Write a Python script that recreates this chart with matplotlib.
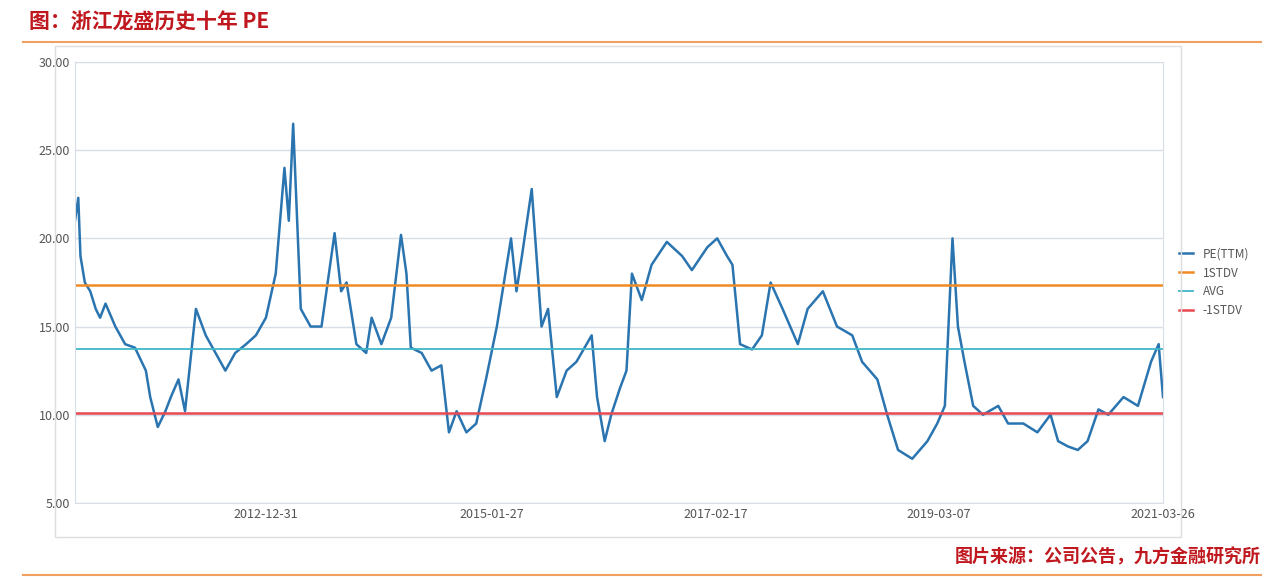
import matplotlib
matplotlib.use("Agg")
import matplotlib.pyplot as plt
import numpy as np
import pandas as pd

plt.rcParams['font.family'] = ['Noto Sans CJK SC', 'DejaVu Sans']

# decimal years
years = [2011.25,2011.28,2011.30,2011.34,2011.39,2011.44,2011.48,2011.53,2011.62,2011.71,
         2011.80,2011.90,2011.94,2012.01,2012.08,2012.13,2012.20,2012.26,2012.36,2012.45,
         2012.54,2012.63,2012.72,2012.82,2012.91,2013.00,2013.09,2013.17,2013.21,2013.25,
         2013.32,2013.41,2013.51,2013.63,2013.69,2013.74,2013.83,2013.92,2013.97,2014.06,
         2014.15,2014.24,2014.29,2014.33,2014.43,2014.52,2014.61,2014.68,2014.75,2014.84,
         2014.93,2015.02,2015.12,2015.25,2015.30,2015.35,2015.44,2015.53,2015.59,2015.67,
         2015.76,2015.85,2015.99,2016.04,2016.11,2016.17,2016.25,2016.31,2016.36,2016.45,
         2016.54,2016.68,2016.82,2016.91,2017.05,2017.14,2017.23,2017.28,2017.35,2017.46,
         2017.55,2017.63,2017.74,2017.88,2017.97,2018.11,2018.24,2018.38,2018.47,2018.61,
         2018.70,2018.80,2018.93,2019.07,2019.16,2019.23,2019.30,2019.35,2019.41,2019.49,
         2019.58,2019.72,2019.81,2019.95,2020.08,2020.20,2020.27,2020.36,2020.45,2020.54,
         2020.64,2020.73,2020.87,2021.00,2021.12,2021.19,2021.23]
pe = [21.0,22.3,19.0,17.5,17.0,16.0,15.5,16.3,15.0,14.0,
      13.8,12.5,11.0,9.3,10.2,11.0,12.0,10.2,16.0,14.5,
      13.5,12.5,13.5,14.0,14.5,15.5,18.0,24.0,21.0,26.5,
      16.0,15.0,15.0,20.3,17.0,17.5,14.0,13.5,15.5,14.0,
      15.5,20.2,18.0,13.8,13.5,12.5,12.8,9.0,10.2,9.0,
      9.5,12.0,15.0,20.0,17.0,19.0,22.8,15.0,16.0,11.0,
      12.5,13.0,14.5,11.0,8.5,10.0,11.5,12.5,18.0,16.5,
      18.5,19.8,19.0,18.2,19.5,20.0,19.0,18.5,14.0,13.7,
      14.5,17.5,16.0,14.0,16.0,17.0,15.0,14.5,13.0,12.0,
      10.0,8.0,7.5,8.5,9.5,10.5,20.0,15.0,13.0,10.5,
      10.0,10.5,9.5,9.5,9.0,10.0,8.5,8.2,8.0,8.5,
      10.3,10.0,11.0,10.5,13.0,14.0,11.0]
std_hi, avg, std_lo = 17.35, 13.75, 10.1
xlabels = ["2012-12-31","2015-01-27","2017-02-17","2019-03-07","2021-03-26"]

def to_date(y):
    yr = int(y)
    start = pd.Timestamp(f"{yr}-01-01")
    return start + pd.Timedelta(days=(y - yr) * 365.25)

n = min(len(years), len(pe))
dates = [to_date(y) for y in years[:n]]
pe = pe[:n]

fig = plt.figure(figsize=(12.8, 5.8), dpi=100)
fig.text(0.023, 0.962, "图：浙江龙盛历史十年 PE", color="#c0181f", fontsize=15, fontweight="bold", va="center")
fig.add_artist(plt.Line2D([0.018, 0.985], [0.927, 0.927], color="#f0a060", lw=1.5))
fig.add_artist(plt.Rectangle((0.043, 0.075), 0.88, 0.845, fill=False, ec="#dddddd", lw=1))
fig.add_artist(plt.Line2D([0.018, 0.985], [0.008, 0.008], color="#f0a060", lw=1.5))
fig.text(0.985, 0.04, "图片来源：公司公告，九方金融研究所", color="#c0181f", fontsize=13, fontweight="bold", ha="right", va="center")

ax = fig.add_axes([0.0586, 0.133, 0.85, 0.760])
ax.plot(dates, pe, color="#2a74b0", lw=1.8, label="PE(TTM)")
ax.axhline(std_hi, color="#f08a24", lw=1.8, label="1STDV")
ax.axhline(avg, color="#40b8c8", lw=1.3, label="AVG")
ax.axhline(std_lo, color="#e84850", lw=1.8, label="-1STDV")
ax.set_xlim(dates[0], dates[-1])
ax.set_ylim(5, 30)
ax.set_yticks([5, 10, 15, 20, 25, 30])
ax.set_yticklabels(["5.00", "10.00", "15.00", "20.00", "25.00", "30.00"])
ax.set_xticks(pd.to_datetime(xlabels))
ax.set_xticklabels(xlabels)
ax.tick_params(colors="#555555", labelsize=9, length=0)
ax.grid(axis="y", color="#d8dde6", lw=1)
for s in ax.spines.values():
    s.set_color("#d8dde6")
ax.legend(loc="center left", bbox_to_anchor=(1.005, 0.5), frameon=False, fontsize=8.5, labelcolor="#555555", handlelength=1.2)
fig.savefig("out.png", dpi=100)
